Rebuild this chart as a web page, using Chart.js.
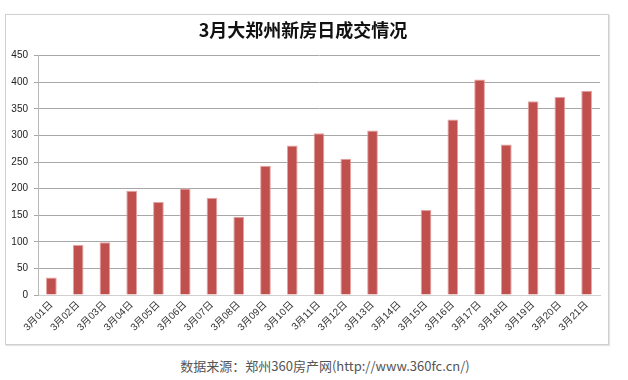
<!DOCTYPE html>
<html>
<head>
<meta charset="utf-8">
<script src="https://cdn.jsdelivr.net/npm/chart.js@4"></script>
<style>
  body { margin: 0; background: #fff; width: 628px; height: 380px; position: relative; overflow: hidden; }
  #box { position: absolute; left: 5px; top: 14px; width: 602px; height: 329px; border: 1px solid #cfcfcf; box-shadow: 1px 1px 1px #e4e4e4; }
  #caption { position: absolute; left: 0; width: 650px; top: 356px; text-align: center; font: 13px "Noto Sans CJK SC", "Open Sans", sans-serif; color: #555; }
</style>
</head>
<body>
<div id="box"><canvas id="myChart" width="602" height="329"></canvas></div>
<div id="caption">数据来源：郑州360房产网(http://www.360fc.cn/)</div>
<script>
// 3月每日成交
const days = ['3月01日','3月02日','3月03日','3月04日','3月05日','3月06日','3月07日','3月08日','3月09日','3月10日',
              '3月11日','3月12日','3月13日','3月14日','3月15日','3月16日','3月17日','3月18日','3月19日','3月20日','3月21日'];
const sales = [33, 94, 99, 196, 175, 200, 183, 147, 243, 281,
               304, 256, 309, null, 160, 330, 405, 283, 364, 372, 384];
const yMax = 450;
const yStep = 50;

const ctx = document.getElementById('myChart').getContext('2d');

new Chart(ctx, {
    type: 'bar',
    data: {
        labels: days,
        datasets: [{
            label: '成交',
            data: sales,
            backgroundColor: '#c0504d',
            borderColor: '#e4a3a1',
            borderWidth: 1,
            barPercentage: 0.4,
            categoryPercentage: 1
        }]
    },
    options: {
        responsive: false,
        animation: false,
        layout: { padding: { top: 0, left: 0, right: 8, bottom: 0 } },
        plugins: {
            legend: { display: false },
            tooltip: { enabled: false },
            title: {
                display: true,
                text: '3月大郑州新房日成交情况',
                color: '#111',
                font: { family: '"Noto Sans CJK SC", sans-serif', size: 18, weight: 'bold' },
                padding: { top: 4, bottom: 15 }
            }
        },
        scales: {
            x: {
                grid: { display: false, drawTicks: false },
                border: { color: '#d0d0d0' },
                ticks: {
                    autoSkip: false, maxRotation: 45, minRotation: 45, padding: 4,
                    color: '#333',
                    font: { family: '"Liberation Sans", "Noto Sans CJK SC", sans-serif', size: 10 }
                },
                afterFit: s => { s.height = 49; }
            },
            y: {
                min: 0, max: yMax,
                grid: { color: '#a8a8a8', tickLength: 4 },
                border: { color: '#b8b8b8' },
                ticks: {
                    stepSize: yStep, color: '#222', padding: 6,
                    font: { family: '"Liberation Sans", sans-serif', size: 10 }
                },
                afterFit: s => { s.width = 32; }
            }
        }
    }
});
</script>
</body>
</html>
